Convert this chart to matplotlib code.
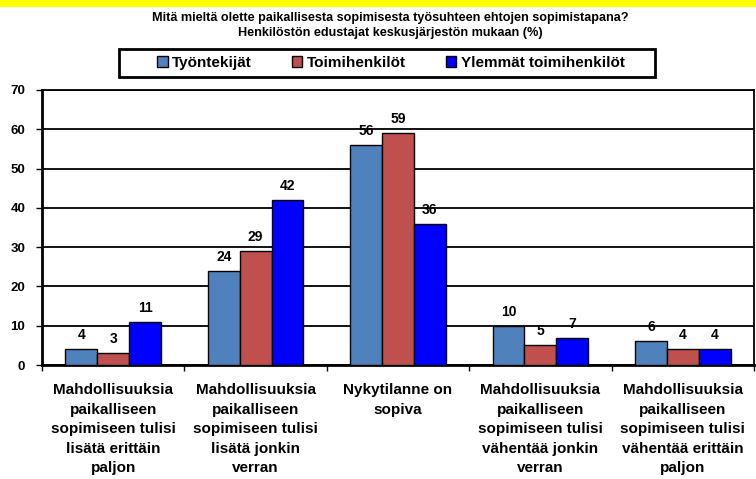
import numpy as np
import matplotlib
matplotlib.use('Agg')
import matplotlib.pyplot as plt
from matplotlib.patches import Rectangle

plt.rcParams['font.family'] = ['Liberation Sans', 'DejaVu Sans']
plt.rcParams['font.weight'] = 'bold'

# vastausvaihtoehdot ja ryhmien osuudet (%)
kategoriat = [
    'Mahdollisuuksia\npaikalliseen\nsopimiseen tulisi\nlisätä erittäin\npaljon',
    'Mahdollisuuksia\npaikalliseen\nsopimiseen tulisi\nlisätä jonkin\nverran',
    'Nykytilanne on\nsopiva',
    'Mahdollisuuksia\npaikalliseen\nsopimiseen tulisi\nvähentää jonkin\nverran',
    'Mahdollisuuksia\npaikalliseen\nsopimiseen tulisi\nvähentää erittäin\npaljon',
]
ryhmat = ['Työntekijät', 'Toimihenkilöt', 'Ylemmät toimihenkilöt']
tyontekijat = [4, 24, 56, 10, 6]
toimihenkilot = [3, 29, 59, 5, 4]
ylemmat = [11, 42, 36, 7, 4]
varit = ['#4F81BD', '#C0504D', '#0000FF']

otsikko1 = 'Mitä mieltä olette paikallisesta sopimisesta työsuhteen ehtojen sopimistapana?'
otsikko2 = 'Henkilöstön edustajat keskusjärjestön mukaan (%)'

W, H = 756, 479
fig = plt.figure(figsize=(W / 100, H / 100), dpi=100)
fig.patch.set_facecolor('white')

# keltainen palkki ylälaidassa
fig.patches.append(Rectangle((0, 1 - 7 / H), 1, 7 / H, transform=fig.transFigure,
                             facecolor='#FFFF00', edgecolor='none'))

fig.text(390 / W, 1 - 18 / H, otsikko1, ha='center', va='center', fontsize=9.1, fontweight='bold')
fig.text(390 / W, 1 - 33 / H, otsikko2, ha='center', va='center', fontsize=9.1, fontweight='bold')

ax = fig.add_axes([42 / W, (H - 365) / H, (754 - 42) / W, (365 - 90) / H])

x = np.arange(len(kategoriat))
leveys = 0.224
sarjat = [tyontekijat, toimihenkilot, ylemmat]
palkit = []
for i, (arvot, vari, nimi) in enumerate(zip(sarjat, varit, ryhmat)):
    b = ax.bar(x + (i - 1) * leveys, arvot, leveys, color=vari, edgecolor='black',
               linewidth=1, label=nimi, zorder=3)
    palkit.append(b)
    for xi, v in zip(x + (i - 1) * leveys, arvot):
        ax.annotate(str(v), (xi, v), xytext=(0, 5), textcoords='offset points',
                    ha='center', va='bottom', fontsize=10, fontweight='bold', zorder=4)

ax.set_xlim(-0.5, len(kategoriat) - 0.5)
ax.set_ylim(0, 70)
ax.set_yticks(range(0, 71, 10))
ax.yaxis.grid(True, color='black', linewidth=1.3, zorder=0)
ax.set_axisbelow(True)

# luokkien rajat pieninä väkäsinä, nimet keskelle
ax.set_xticks(np.arange(-0.5, len(kategoriat), 1.0))
ax.set_xticklabels([])
ax.set_xticks(x, minor=True)
ax.set_xticklabels(kategoriat, minor=True, fontsize=11, fontweight='bold', linespacing=1.5)
ax.tick_params(axis='x', which='minor', length=0, pad=13)
ax.tick_params(axis='x', which='major', length=4, width=1, direction='out')
ax.tick_params(axis='y', length=4, width=1, direction='out', labelsize=9.5, pad=8)
for lab in ax.get_yticklabels():
    lab.set_fontweight('bold')

for s in ['left', 'bottom']:
    ax.spines[s].set_linewidth(2)
for s in ['top', 'right']:
    ax.spines[s].set_linewidth(1.3)

# selitteen kehys piirretään erikseen, jotta sen koko pysyy kiinteänä
fig.patches.append(Rectangle((119 / W, 1 - 77 / H), 536 / W, 28 / H, transform=fig.transFigure,
                             facecolor='white', edgecolor='black', linewidth=2, zorder=1))
leg = fig.legend(handles=palkit, labels=ryhmat, loc='center left', ncol=3,
                 bbox_to_anchor=(157 / W, 1 - 63 / H), frameon=False,
                 fontsize=11, columnspacing=2.6,
                 handlelength=0.7, handleheight=0.7, handletextpad=0.3,
                 borderpad=0, borderaxespad=0)
for t in leg.get_texts():
    t.set_fontweight('bold')

fig.savefig('out.png', dpi=100)
